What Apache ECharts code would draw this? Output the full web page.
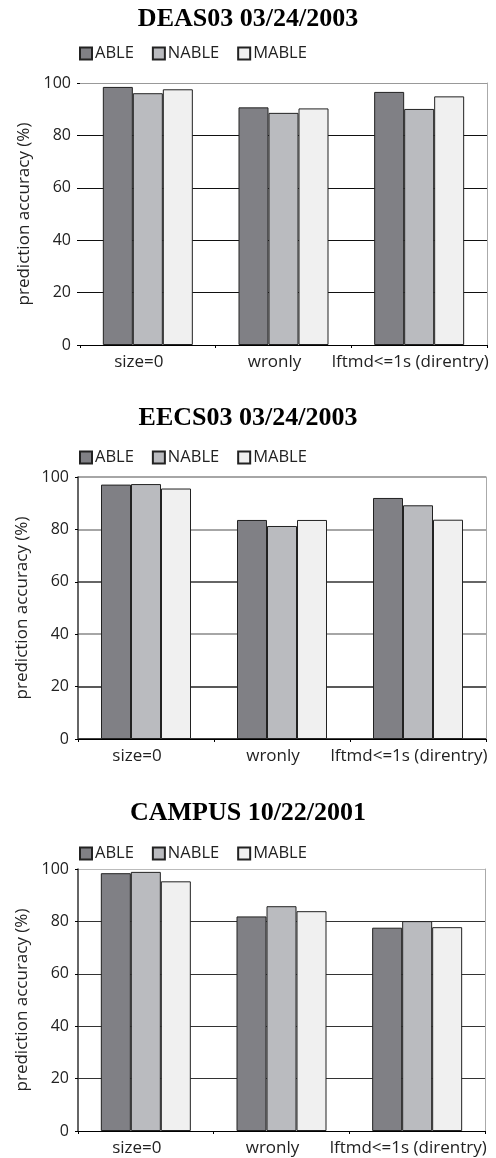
<!DOCTYPE html>
<html>
<head>
<meta charset="utf-8">
<script src="https://cdn.jsdelivr.net/npm/echarts@6/dist/echarts.min.js"></script>
<style>
  html, body { margin: 0; padding: 0; background: #fff; }
  #box { width: 496px; height: 1158px; }
</style>
</head>
<body>
<div id="box"></div>
<script>
const categories = ['size=0', 'wronly', 'lftmd<=1s (direntry)']
const seriesNames = ['ABLE', 'NABLE', 'MABLE']
const yTicks = [0, 20, 40, 60, 80, 100]

// DEAS03 03/24/2003
const deasAble = [98.5, 90.7, 96.6]
const deasNable = [96.1, 88.6, 90.1]
const deasMable = [97.6, 90.3, 94.9]
// EECS03 03/24/2003
const eecsAble = [97.1, 83.6, 92.0]
const eecsNable = [97.3, 81.3, 89.2]
const eecsMable = [95.6, 83.6, 83.7]
// CAMPUS 10/22/2001
const campusAble = [98.4, 81.9, 77.6]
const campusNable = [98.9, 85.8, 80.1]
const campusMable = [95.3, 83.9, 77.8]

const panels = [
  {title: 'DEAS03 03/24/2003', data: [deasAble, deasNable, deasMable], top: 83, left: 80, right: 9,
    titleTop: 1, legendTop: 40, leftLine: false,
    split: ['#000', '#111', '#111', '#111', '#111', '#999'], splitW: 1},
  {title: 'EECS03 03/24/2003', data: [eecsAble, eecsNable, eecsMable], top: 477, left: 78, right: 10,
    titleTop: 400, legendTop: 444, leftLine: true,
    split: ['#000', '#222', '#888', '#333', '#888', '#888'], splitW: 1.5},
  {title: 'CAMPUS 10/22/2001', data: [campusAble, campusNable, campusMable], top: 869, left: 78, right: 11,
    titleTop: 795, legendTop: 840, leftLine: true,
    split: ['#000', '#333', '#333', '#333', '#333', '#bbb'], splitW: 1}
]
const colors = ['#808085', '#babbbf', '#f0f0f0']
const font = '"Open Sans", sans-serif'

const options = {
  backgroundColor: '#fff',
  animation: false,
  title: [], legend: [], grid: [], xAxis: [], yAxis: [], series: []
}

panels.forEach((p, i) => {
  options.title.push({
    text: p.title, left: 'center', top: p.titleTop,
    textStyle: {fontFamily: '"Liberation Serif", serif', fontWeight: 'bold', fontSize: 26, color: '#000'}
  })
  options.legend.push({
    data: seriesNames, left: 74, top: p.legendTop, itemWidth: 12, itemHeight: 12, itemGap: 18,
    icon: 'rect',
    textStyle: {fontFamily: font, fontSize: 16.5, color: '#222', padding: [0, 0, 0, -2]}
  })
  options.grid.push({left: p.left, right: p.right, top: p.top, height: 262, containLabel: false})
  options.xAxis.push({
    type: 'category', gridIndex: i, data: categories,
    axisLine: {lineStyle: {color: '#000', width: 1}},
    axisTick: {show: true, length: 3, lineStyle: {color: '#000'}},
    axisLabel: {fontFamily: font, fontSize: 17, color: '#222', margin: 9, interval: 0, padding: [0, 18, 0, 0]}
  })
  options.yAxis.push({
    type: 'value', gridIndex: i, min: 0, max: 100, interval: 20,
    name: 'prediction accuracy (%)', nameLocation: 'middle', nameGap: 47,
    nameTextStyle: {fontFamily: font, fontSize: 17, color: '#222'},
    axisLine: {show: p.leftLine, lineStyle: {color: '#333', width: 1.5}},
    axisTick: {show: true, length: 3, lineStyle: {color: '#000'}},
    axisLabel: {fontFamily: font, fontSize: 16, color: '#222', margin: 9},
    splitLine: {show: true, showMinLine: true, showMaxLine: true, lineStyle: {color: p.split, width: p.splitW}}
  })
  // right border of the plot frame
  options.yAxis.push({
    type: 'value', gridIndex: i, position: 'right', min: 0, max: 100,
    axisLine: {show: true, lineStyle: {color: '#aaa', width: 1}},
    axisTick: {show: false}, axisLabel: {show: false}, splitLine: {show: false}
  })
  p.data.forEach((vals, k) => {
    options.series.push({
      name: seriesNames[k], type: 'bar', xAxisIndex: i, yAxisIndex: i * 2,
      data: vals, barWidth: 30, barGap: '0%',
      itemStyle: {color: colors[k], borderColor: '#222', borderWidth: 1}
    })
  })
})

const chart = echarts.init(document.getElementById('box'))
chart.setOption(options)
</script>
</body>
</html>
